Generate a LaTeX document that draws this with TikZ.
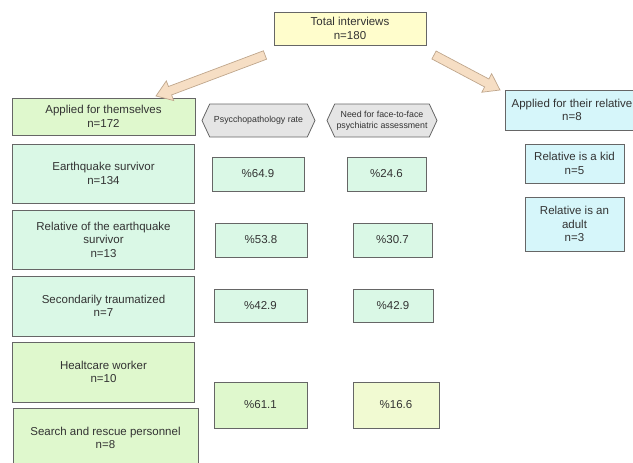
\documentclass[tikz,border=0pt]{standalone}
\usepackage{fontspec}
\setmainfont{Liberation Sans}
\usetikzlibrary{calc, positioning, shapes.symbols}

\definecolor{boxline}{HTML}{666666}
\definecolor{textgray}{HTML}{333333}
\definecolor{paleyellow}{HTML}{FFFDCC}
\definecolor{palegreen}{HTML}{DFF8CD}
\definecolor{palemint}{HTML}{DAF8E6}
\definecolor{palecyan}{HTML}{D6F6FA}
\definecolor{palegray}{HTML}{E5E5E5}
\definecolor{limeyellow}{HTML}{F1FAD2}
\definecolor{arrowfill}{HTML}{F6DEC4}
\definecolor{arrowline}{HTML}{BFA68C}

\tikzset{
  cell/.style={draw=boxline, line width=0.8pt, text=textgray, align=center,
    inner sep=0pt, font=\fontsize{11.5}{13.5}\selectfont},
  sz/.style 2 args={minimum width=#1, minimum height=#2},
  header/.style={shape=signal, signal to=west and east, signal pointer angle=130,
    draw=boxline, fill=palegray, line width=0.8pt, text=textgray, align=center,
    inner sep=0pt, font=\fontsize{8.8}{10.8}\selectfont},
  blockarrow/.style={fill=arrowfill, draw=arrowline, line width=0.7pt, line join=miter}
}

\begin{document}
\begin{tikzpicture}[x=1pt, y=-1pt]
  \useasboundingbox (0,0) rectangle (633,463);
  \clip (0,0) rectangle (633,463);

  %► Top of the tree
  \node[cell, fill=paleyellow, sz={152pt}{33pt}] (total) at (350,28.5) {Total interviews\\n=180};
  \node[cell, fill=palegreen, sz={183pt}{37pt}]  (self)  at (103.5,116.5) {Applied for themselves\\n=172};
  \node[cell, fill=palecyan, sz={134pt}{40pt}]   (rel)   at (572,110) {Applied for their relative\\n=8};

  %► Column headers
  \node[header, sz={113pt}{33pt}] (hrate) at (258.5,120.5) {Psycchopathology rate};
  \node[header, sz={110pt}{33pt}] (hneed) at (382,120.5) {Need for face-to-face\\psychiatric assessment};

  %► Groups of those who applied for themselves
  \node[cell, fill=palemint, sz={182pt}{59pt}]  (quake)  at (103.5,173.5) {Earthquake survivor\\n=134};
  \node[cell, fill=palemint, sz={182pt}{59pt}]  (kin)    at (103.5,239.5) {Relative of the earthquake\\survivor\\n=13};
  \node[cell, fill=palemint, sz={182pt}{60pt}]  (second) at (103.5,306) {Secondarily traumatized\\n=7};
  \node[cell, fill=palegreen, sz={182pt}{60pt}] (health) at (103.5,372) {Healtcare worker\\n=10};
  \node[cell, fill=palegreen, sz={185pt}{60pt}] (rescue) at (105.5,438) {Search and rescue personnel\\n=8};

  %► Rates
  \node[cell, fill=palemint, sz={92pt}{34pt}]  (rate1) at (258,174)   {\%64.9};
  \node[cell, fill=palemint, sz={79pt}{34pt}]  (need1) at (386.5,174) {\%24.6};
  \node[cell, fill=palemint, sz={92pt}{34pt}]  (rate2) at (261,240)   {\%53.8};
  \node[cell, fill=palemint, sz={79pt}{34pt}]  (need2) at (392.5,240) {\%30.7};
  \node[cell, fill=palemint, sz={93pt}{33pt}]  (rate3) at (260.5,305.5) {\%42.9};
  \node[cell, fill=palemint, sz={80pt}{33pt}]  (need3) at (393,305.5) {\%42.9};
  \node[cell, fill=palegreen, sz={93pt}{46pt}] (rate4) at (260.5,405) {\%61.1};
  \node[cell, fill=limeyellow, sz={86pt}{46pt}] (need4) at (396,405) {\%16.6};

  %► Relatives
  \node[cell, fill=palecyan, sz={99pt}{39pt}] (kid)   at (574.5,163.5) {Relative is a kid\\n=5};
  \node[cell, fill=palecyan, sz={99pt}{54pt}] (adult) at (574.5,224)   {Relative is an\\adult\\n=3};

  %► Block arrows
  \coordinate (ltail) at (265,55);
  \coordinate (lhead) at (156,96);
  \coordinate (rtail) at (434,55);
  \coordinate (rhead) at (500,90);
  \foreach \t/\h in {ltail/lhead, rtail/rhead} {
    \coordinate (neck) at ($(\h)!15pt!(\t)$);
    \filldraw[blockarrow] ($(\t)!4.5pt!90:(\h)$) -- ($(neck)!4.5pt!90:(\h)$)
      -- ($(neck)!10.5pt!90:(\h)$) -- (\h) -- ($(neck)!10.5pt!-90:(\h)$)
      -- ($(neck)!4.5pt!-90:(\h)$) -- ($(\t)!4.5pt!-90:(\h)$) -- cycle;
  }
\end{tikzpicture}
\end{document}
